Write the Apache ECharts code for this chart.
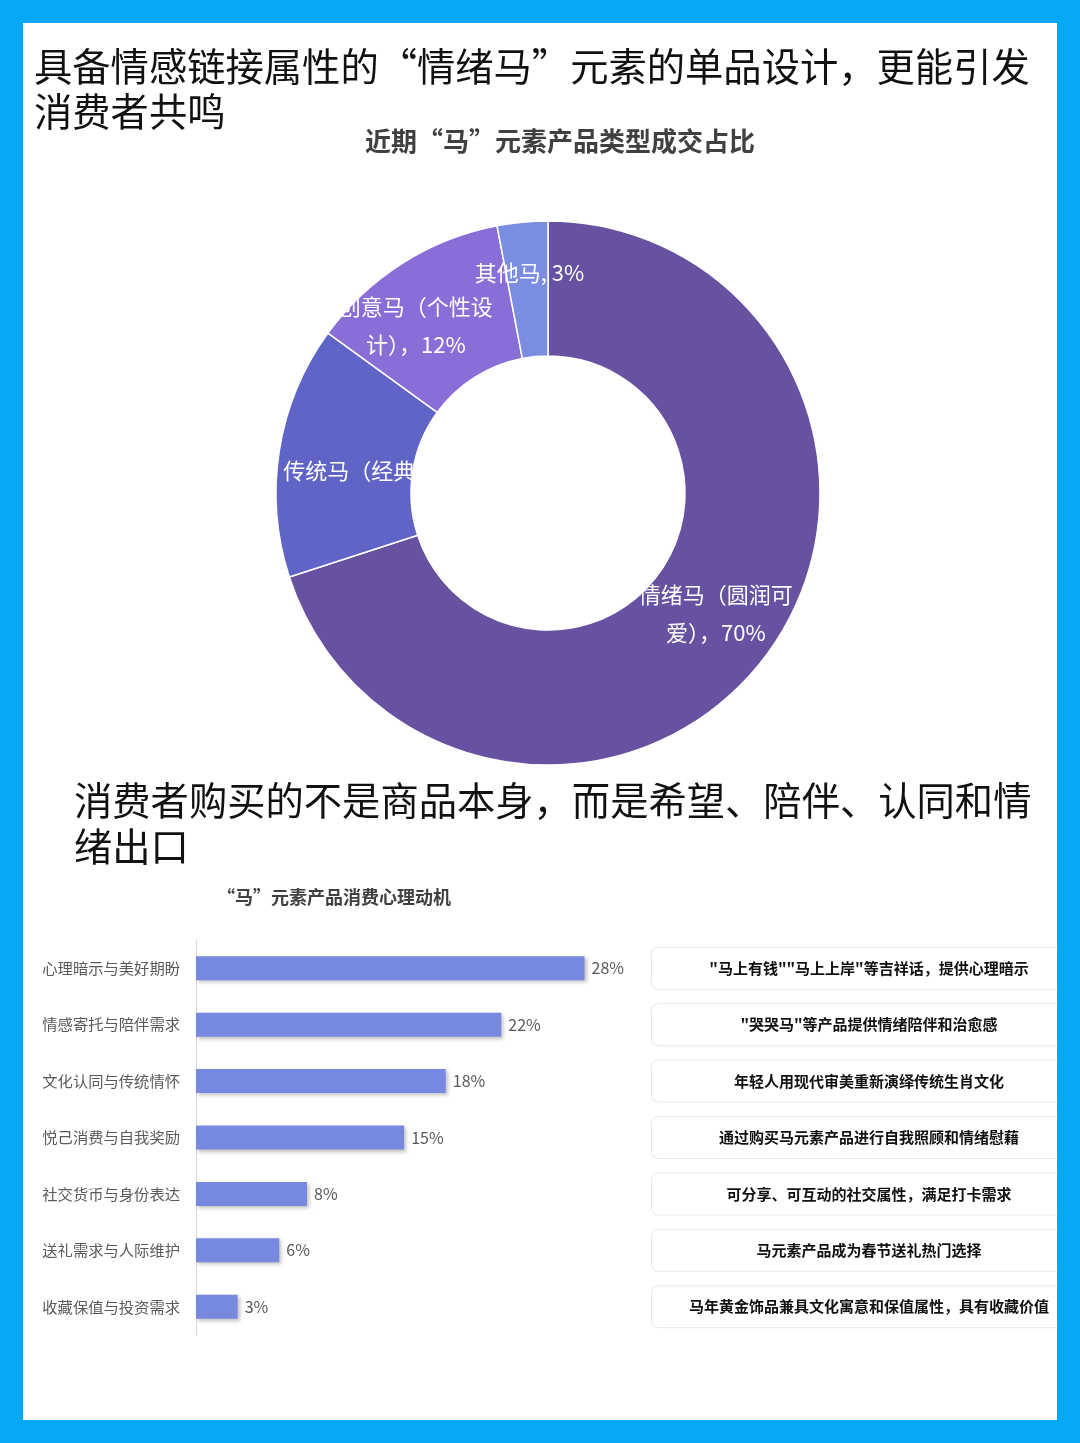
<!DOCTYPE html>
<html>
<head>
<meta charset="utf-8">
<script src="https://cdn.jsdelivr.net/npm/echarts@6/dist/echarts.min.js"></script>
<style>
html,body{margin:0;padding:0;background:#05A9F5;width:1080px;height:1443px;overflow:hidden;}
#c{position:absolute;left:23px;top:23px;width:1034px;height:1397px;background:#fff;}
</style>
</head>
<body>
<div id="c"></div>
<script>
// ---- data ----
var pieNames = ['情绪马（圆润可爱）', '传统马（经典款）', '创意马（个性设计）', '其他马'];
var pieValues = [70, 15, 12, 3];
var pieLabels = ['情绪马（圆润可\n爱），70%', '传统马（经典款），15%', '创意马（个性设\n计），12%', '其他马, 3%'];
var pieColors = ['#6652A0', '#6064C7', '#8A6ED8', '#7B8DE1'];

var barCategories = ['心理暗示与美好期盼', '情感寄托与陪伴需求', '文化认同与传统情怀', '悦己消费与自我奖励', '社交货币与身份表达', '送礼需求与人际维护', '收藏保值与投资需求'];
var barValues = [28, 22, 18, 15, 8, 6, 3];
var barNotes = ['"马上有钱""马上上岸"等吉祥话，提供心理暗示', '"哭哭马"等产品提供情绪陪伴和治愈感', '年轻人用现代审美重新演绎传统生肖文化', '通过购买马元素产品进行自我照顾和情绪慰藉', '可分享、可互动的社交属性，满足打卡需求', '马元素产品成为春节送礼热门选择', '马年黄金饰品兼具文化寓意和保值属性，具有收藏价值'];

var FONT = '"Noto Sans CJK SC", "Noto Sans", sans-serif';
var labelTweaks = [
  {offset: [0, -1], lineHeight: 38},
  {offset: [56, 10], lineHeight: 30},
  {offset: [-21, 8], lineHeight: 38},
  {offset: [1, -14], lineHeight: 26}
];

var pieData = pieNames.map(function (n, i) {
  return {
    name: n,
    value: pieValues[i],
    itemStyle: {color: pieColors[i]},
    label: {
      formatter: pieLabels[i],
      offset: labelTweaks[i].offset,
      lineHeight: labelTweaks[i].lineHeight
    }
  };
});

var chart = echarts.init(document.getElementById('c'), null, {renderer: 'canvas'});
chart.setOption({
  backgroundColor: '#fff',
  animation: false,
  textStyle: {fontFamily: FONT},
  title: [
    {
      text: '具备情感链接属性的“情绪马”元素的单品设计，更能引发\n消费者共鸣',
      left: 11, top: 21, padding: 0,
      textStyle: {fontSize: 38.3, fontWeight: 'normal', color: '#111', lineHeight: 45, fontFamily: FONT}
    },
    {
      text: '近期“马”元素产品类型成交占比',
      left: 537, top: 103, padding: 0, textAlign: 'center',
      textStyle: {fontSize: 26, fontWeight: 'bold', color: '#404040', lineHeight: 30, fontFamily: FONT}
    },
    {
      text: '消费者购买的不是商品本身，而是希望、陪伴、认同和情\n绪出口',
      left: 51, top: 754, padding: 0,
      textStyle: {fontSize: 38.3, fontWeight: 'normal', color: '#111', lineHeight: 46, fontFamily: FONT}
    },
    {
      text: '“马”元素产品消费心理动机',
      left: 311, top: 862, padding: 0, textAlign: 'center',
      textStyle: {fontSize: 18, fontWeight: 'bold', color: '#404040', lineHeight: 24, fontFamily: FONT}
    }
  ],
  grid: {left: 173, top: 917, width: 444, height: 395, containLabel: false, outerBoundsMode: 'none'},
  xAxis: {
    type: 'value', min: 0, max: 32, show: false
  },
  yAxis: [
    {
      type: 'category', data: barCategories, inverse: true,
      axisLine: {show: true, lineStyle: {color: '#d9d9d9', width: 1}},
      axisTick: {show: false},
      axisLabel: {fontSize: 15.3, color: '#595959', margin: 16, fontFamily: FONT}
    },
    {
      type: 'category', data: barNotes, inverse: true, position: 'right',
      axisLine: {show: false}, axisTick: {show: false},
      axisLabel: {
        margin: 12,
        formatter: function (v) { return '{b|' + v + '}'; },
        rich: {
          b: {
            width: 434, height: 41, lineHeight: 41, align: 'center',
            backgroundColor: '#fff', borderColor: '#e3eaf2', borderWidth: 1, borderRadius: 6,
            fontSize: 15, fontWeight: 'bold', color: '#111', fontFamily: FONT
          }
        }
      }
    }
  ],
  series: [
    {
      type: 'pie',
      center: [525, 470],
      radius: [137, 272],
      startAngle: 90,
      clockwise: true,
      avoidLabelOverlap: false,
      minShowLabelAngle: 0,
      itemStyle: {borderColor: '#fff', borderWidth: 1.5},
      label: {
        show: true, position: 'inside', color: '#fff', fontSize: 22,
        fontFamily: FONT, fontWeight: 'normal'
      },
      labelLayout: {hideOverlap: false},
      labelLine: {show: false},
      emphasis: {disabled: true},
      data: pieData
    },
    {
      type: 'bar',
      xAxisIndex: 0, yAxisIndex: 0,
      data: barValues,
      barWidth: 24,
      itemStyle: {
        color: '#7689DF',
        shadowColor: 'rgba(0,0,0,0.25)', shadowBlur: 4, shadowOffsetX: 2, shadowOffsetY: 2
      },
      label: {
        show: true, position: 'right', distance: 7,
        formatter: '{c}%', fontSize: 16, color: '#595959', fontFamily: FONT
      },
      emphasis: {disabled: true}
    }
  ]
});
</script>
</body>
</html>
